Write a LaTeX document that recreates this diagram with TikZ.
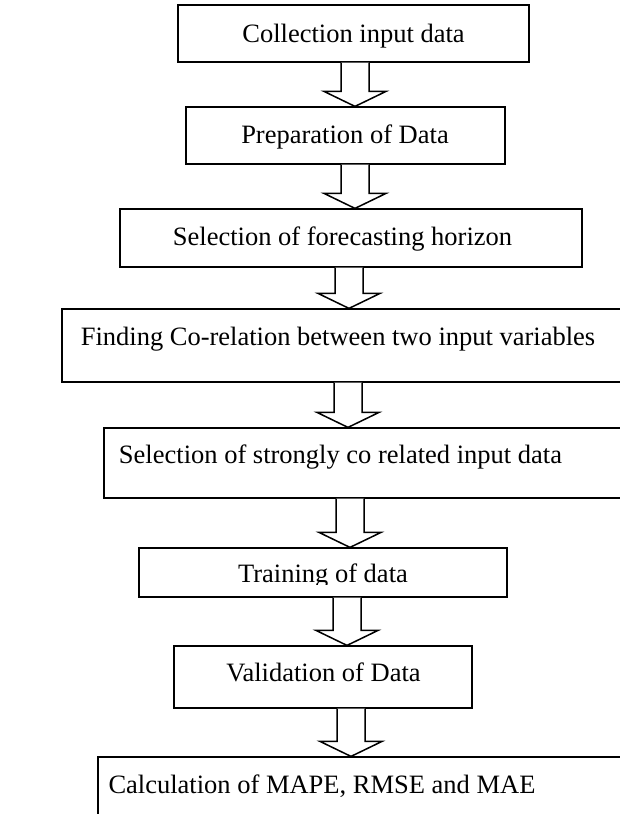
\documentclass[tikz,border=0pt]{standalone}
\usepackage{fontspec}
\setmainfont{Liberation Serif}
\usetikzlibrary{calc}
\begin{document}
\begin{tikzpicture}[x=1pt,y=-1pt,
  box/.style={draw=black, line width=1.2pt, fill=white, inner sep=0pt},
  txt/.style={inner sep=0pt, anchor=base, font=\fontsize{26.5pt}{32pt}\selectfont},
  barrow/.style={draw=black, line width=1.5pt, fill=white, line join=miter}]
\useasboundingbox (0,0) rectangle (619,814);
\fill[white] (0,0) rectangle (619,814);
% boxes (corner to corner)
\node[box, minimum width=351pt, minimum height=57pt] (b1) at (353.5,33.5) {};
\node[box, minimum width=319pt, minimum height=57pt] (b2) at (345.5,135.5) {};
\node[box, minimum width=462pt, minimum height=58pt] (b3) at (351,238) {};
\node[box, minimum width=563pt, minimum height=73pt] (b4) at (343.5,345.5) {};
\node[box, minimum width=521pt, minimum height=70pt] (b5) at (364.5,463) {};
\node[box, minimum width=368pt, minimum height=49pt] (b6) at (323,572.5) {};
\node[box, minimum width=298pt, minimum height=62pt] (b7) at (323,677) {};
\node[box, minimum width=562pt, minimum height=103pt] (b8) at (379,808.5) {};
% texts (placed on their baselines)
\node[txt] (t1) at (353.5,42) {Collection input data};
\node[txt] (t2) at (345,143) {Preparation of Data};
\node[txt] (t3) at (342.5,245) {Selection of forecasting horizon};
\node[txt] (t4) at (338,345) {Finding Co-relation between two input variables};
\node[txt] (t5) at (340.5,463) {Selection of strongly co related input data};
\begin{scope}
  \clip (0,540) rectangle (619,584);
  \node[txt] (t6) at (323,582) {Training of data};
\end{scope}
\node[txt] (t7) at (323.5,681) {Validation of Data};
\node[txt] (t8) at (322,793) {Calculation of MAPE, RMSE and MAE};
% arrow axes
\coordinate (ax1) at (355,0);
\coordinate (ax2) at (355,0);
\coordinate (ax3) at (349,0);
\coordinate (ax4) at (348,0);
\coordinate (ax5) at (350,0);
\coordinate (ax6) at (347,0);
\coordinate (ax7) at (351,0);
\newcommand\blockarr[3]{%
  \draw[barrow] let \p1=(#1.south -| #3), \p2=(#2.north -| #3) in
    (\x1-14,\y1) -- (\x1-14,\y2+15) -- (\x1-31,\y2+15) -- (\x2,\y2)
    -- (\x1+31,\y2+15) -- (\x1+14,\y2+15) -- (\x1+14,\y1);}
\blockarr{b1}{b2}{ax1}
\blockarr{b2}{b3}{ax2}
\blockarr{b3}{b4}{ax3}
\blockarr{b4}{b5}{ax4}
\blockarr{b5}{b6}{ax5}
\blockarr{b6}{b7}{ax6}
\blockarr{b7}{b8}{ax7}
\end{tikzpicture}
\end{document}
